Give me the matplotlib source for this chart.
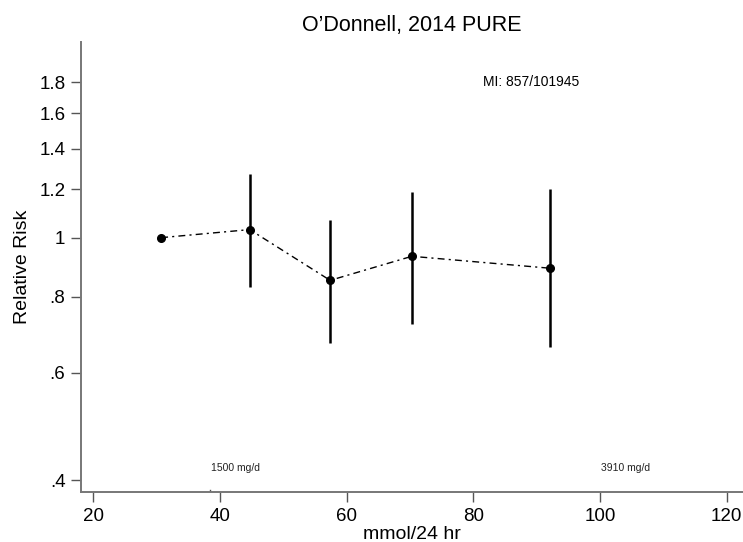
import numpy as np
import matplotlib.pyplot as plt
from matplotlib.ticker import FixedLocator, FixedFormatter, NullLocator

plt.rcParams["font.family"] = ["Liberation Sans", "DejaVu Sans"]

# Sodium intake (mmol/24 hr) and relative risk with 95% CI
sodium = [30.7, 44.7, 57.4, 70.3, 92.1]
rr = [1.0, 1.031, 0.851, 0.932, 0.891]
rr_low = [np.nan, 0.83, 0.672, 0.722, 0.662]
rr_high = [np.nan, 1.27, 1.07, 1.19, 1.20]

y_ticks = [0.4, 0.6, 0.8, 1.0, 1.2, 1.4, 1.6, 1.8]
y_labels = [".4", ".6", ".8", "1", "1.2", "1.4", "1.6", "1.8"]
x_ticks = [20, 40, 60, 80, 100, 120]

ref_pos = [38.4, 100]
ref_labels = ["1500 mg/d", "3910 mg/d"]

fig = plt.figure(figsize=(7.43, 5.42), dpi=100)
ax = fig.add_axes([0.1086, 0.0917, 0.8914, 0.8313])

ax.set_yscale("log")
ax.set_xlim(18.0, 122.6)
ax.set_ylim(0.382, 2.097)

# confidence intervals
ax.vlines(sodium, rr_low, rr_high, color="black", linewidth=1.8, zorder=2)
ax.plot(sodium, rr, color="black", linestyle=(0, (5, 3, 1.5, 3)), linewidth=1.0, zorder=3)
ax.plot(sodium, rr, "o", color="black", markersize=5.5, zorder=4)

ax.yaxis.set_major_locator(FixedLocator(y_ticks))
ax.yaxis.set_major_formatter(FixedFormatter(y_labels))
ax.yaxis.set_minor_locator(NullLocator())
ax.set_xticks(x_ticks)

ax.tick_params(axis="both", labelsize=13.5, length=7, width=1, color="#555555", pad=4)
ax.tick_params(axis="y", pad=4)

for side in ["top", "right"]:
    ax.spines[side].set_visible(False)
for side in ["left", "bottom"]:
    ax.spines[side].set_color("#777777")
    ax.spines[side].set_linewidth(1.4)

# reference sodium intake markers
ax.plot([ref_pos[0], ref_pos[0]], [0.382, 0.386], color="#555555", linewidth=1)
for xp, lab in zip(ref_pos, ref_labels):
    ax.annotate(lab, xy=(xp, 0), xycoords=("data", "axes fraction"),
                xytext=(1, 14), textcoords="offset points", fontsize=7.5,
                ha="left", va="bottom", color="#222222")

ax.text(0.607, 0.911, "MI: 857/101945", transform=ax.transAxes, fontsize=10,
        ha="left", va="center")

ax.set_title("O\u2019Donnell, 2014 PURE", fontsize=15.5, pad=8)
ax.set_xlabel("mmol/24 hr", fontsize=14, labelpad=1)
ax.set_ylabel("Relative Risk", fontsize=14, labelpad=6)

fig.savefig("out.png", dpi=100)
